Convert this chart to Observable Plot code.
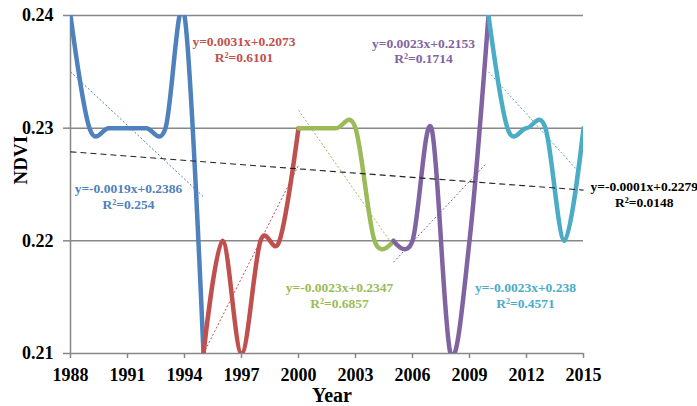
<!DOCTYPE html>
<html><head><meta charset="utf-8">
<script src="https://cdn.jsdelivr.net/npm/d3@7"></script>
<script src="https://cdn.jsdelivr.net/npm/@observablehq/plot@0.6"></script>
<style>body{margin:0;background:#fff}</style>
</head><body><div id="chart"></div>
<script>
// ---- data ----
const years = [1988,1989,1990,1991,1992,1993,1994,1995,1996,1997,1998,1999,2000,2001,
               2002,2003,2004,2005,2006,2007,2008,2009,2010,2011,2012,2013,2014,2015];
const ndvi  = [0.24,0.23,0.23,0.23,0.23,0.23,0.24,0.21,0.22,0.21,0.22,0.22,0.23,0.23,
               0.23,0.23,0.22,0.22,0.22,0.23,0.21,0.22,0.24,0.23,0.23,0.23,0.22,0.23];

const segStart  = [1988, 1995, 2000, 2005, 2010];
const segEnd    = [1995, 2000, 2005, 2010, 2015];
const segColors = ["#4F81BD", "#C0504D", "#9BBB59", "#8064A2", "#4BACC6"];

// dotted per-segment trend lines (endpoints)
const trendX1 = [1988, 1995, 2000, 2005, 2010];
const trendY1 = [0.2350, 0.2100, 0.2316, 0.2181, 0.2350];
const trendX2 = [1995, 2000, 2004.8, 2009.9, 2014.6];
const trendY2 = [0.2239, 0.2267, 0.2200, 0.2269, 0.2264];

// overall dashed trend line
const overallX = [1988, 2015];
const overallY = [0.2279, 0.2245];

const equations = ["y=-0.0019x+0.2386\nR²=0.254", "y=0.0031x+0.2073\nR²=0.6101",
                   "y=-0.0023x+0.2347\nR²=0.6857", "y=0.0023x+0.2153\nR²=0.1714",
                   "y=-0.0023x+0.238\nR²=0.4571", "y=-0.0001x+0.2279\nR²=0.0148"];
const eqYear  = [1991.05, 1997.13, 2002.16, 2006.58, 2011.95, 2018.2];
const eqValue = [0.2240, 0.2370, 0.2152, 0.2369, 0.2152, 0.2242];
const eqColors = ["#4F81BD", "#C0504D", "#9BBB59", "#8064A2", "#4BACC6", "#000000"];

const xTicks = [1988,1991,1994,1997,2000,2003,2006,2009,2012,2015];
const yTicks = [0.21,0.22,0.23,0.24];

// ---- tables ----
const series = [];
segStart.forEach((s, i) => {
  years.forEach((y, j) => {
    if (y >= s && y <= segEnd[i]) series.push({year: y, ndvi: ndvi[j], seg: i, color: segColors[i]});
  });
});
const trends = trendX1.map((x, i) => ({x1: x, y1: trendY1[i], x2: trendX2[i], y2: trendY2[i], color: segColors[i]}));
const overall = [{x1: overallX[0], y1: overallY[0], x2: overallX[1], y2: overallY[1]}];
const labels = equations.map((t, i) => ({text: t, x: eqYear[i], y: eqValue[i], color: eqColors[i]}));

const grey = "#878787";
const chart = Plot.plot({
  width: 697, height: 406,
  marginLeft: 70, marginRight: 114, marginTop: 15, marginBottom: 53,
  style: {fontFamily: "'Liberation Serif','Times New Roman',serif", fontWeight: "bold", background: "#fff", overflow: "visible"},
  x: {domain: [1988, 2015]},
  y: {domain: [0.21, 0.24]},
  color: {type: "identity"},
  marks: [
    Plot.ruleY(yTicks.slice(1), {stroke: grey, strokeWidth: 1.5}),
    Plot.ruleY([0.21], {stroke: grey, strokeWidth: 1.5}),
    Plot.ruleX([1988], {stroke: grey, strokeWidth: 1.5}),
    Plot.axisY(yTicks, {tickSize: 7, tickPadding: 10, tickFormat: d3.format(".2f"), fontSize: 18, stroke: grey, strokeWidth: 1.5, fill: "#000", label: null}),
    Plot.axisX(xTicks, {tickSize: 5, tickPadding: 10, tickFormat: d => String(d), fontSize: 18, stroke: grey, strokeWidth: 1.5, fill: "#000", label: null}),
    Plot.line(series, {x: "year", y: "ndvi", z: "seg", stroke: "color", strokeWidth: 4.5, curve: "cardinal",
      strokeLinecap: "round", strokeLinejoin: "round", clip: true}),
    Plot.link(trends, {x1: "x1", y1: "y1", x2: "x2", y2: "y2", stroke: "color", strokeWidth: 1, strokeDasharray: "2,2"}),
    Plot.link(overall, {x1: "x1", y1: "y1", x2: "x2", y2: "y2", stroke: "#222", strokeWidth: 1.1, strokeDasharray: "6,4"}),
    Plot.text(labels, {x: "x", y: "y", text: "text", fill: "color", fontSize: 13.5, lineHeight: 1.18, fontWeight: "bold"}),
    Plot.text(["NDVI"], {frameAnchor: "left", dx: -50, rotate: -90, fontSize: 19, fontWeight: "bold"}),
    Plot.text(["Year"], {frameAnchor: "bottom", dx: 5, dy: 48, fontSize: 20, fontWeight: "bold"})
  ]
});
document.getElementById("chart").appendChild(chart);
</script>
</body></html>
